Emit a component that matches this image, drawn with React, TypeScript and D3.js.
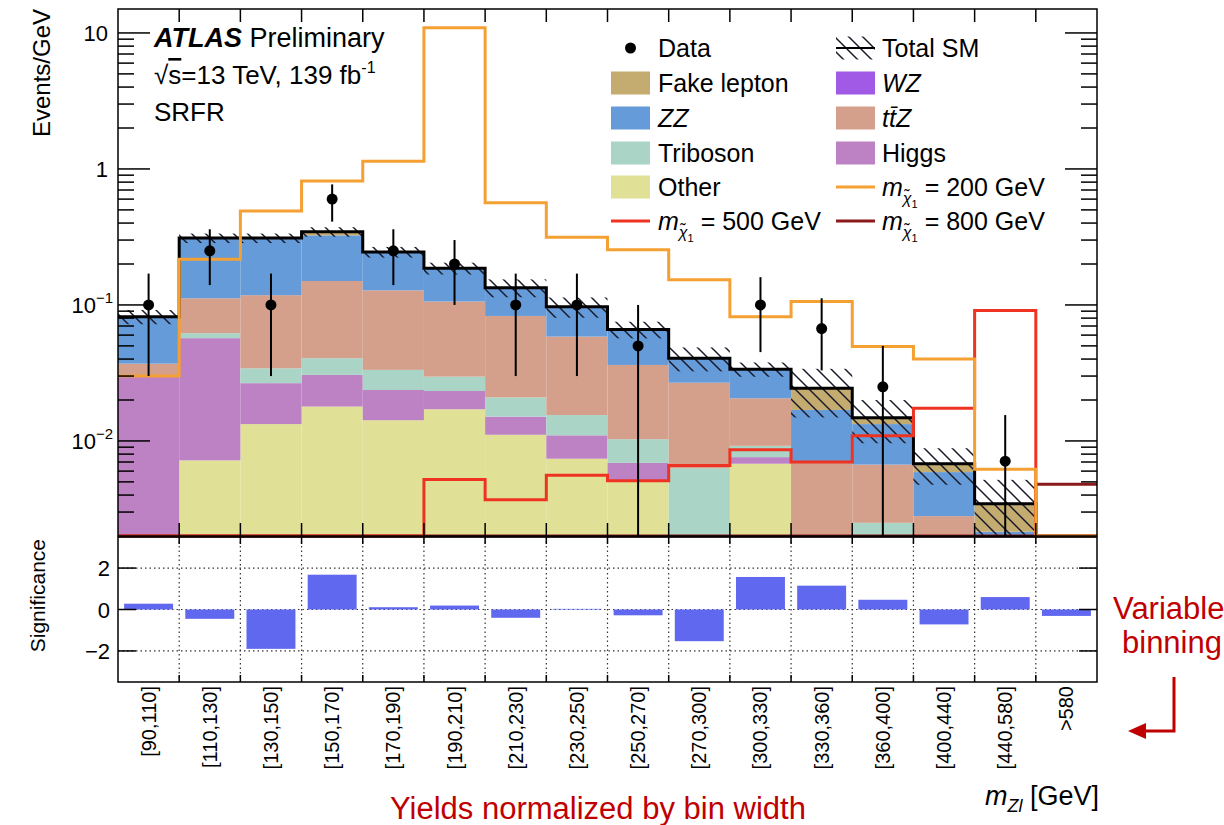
import React from "react";
import * as d3 from "d3";

// m_Zl bins (displayed with equal width)
const binLabels = [
  "[90,110]", "[110,130]", "[130,150]", "[150,170]", "[170,190]", "[190,210]",
  "[210,230]", "[230,250]", "[250,270]", "[270,300]", "[300,330]", "[330,360]",
  "[360,400]", "[400,440]", "[440,580]", ">580",
];

// Background yields, events / GeV
const other = [0, 0.0072, 0.0133, 0.0179, 0.0142, 0.0171, 0.0111, 0.0074, 0.005, 0, 0.0068, 0, 0, 0, 0, 0];
const higgs = [0.03, 0.0498, 0.0133, 0.0127, 0.0095, 0.0062, 0.004, 0.0036, 0.0019, 0, 0.0008, 0, 0, 0, 0, 0];
const triboson = [0, 0.005, 0.0076, 0.01, 0.0096, 0.0064, 0.0058, 0.0045, 0.0034, 0.0063, 0.0016, 0, 0.0025, 0, 0, 0];
const ttz = [0.007, 0.05, 0.0838, 0.1094, 0.0947, 0.0763, 0.0621, 0.043, 0.0259, 0.0205, 0.0114, 0.007, 0.0042, 0.0028, 0, 0];
const zz = [0.045, 0.198, 0.192, 0.175, 0.117, 0.08, 0.051, 0.0385, 0.0298, 0.0138, 0.0131, 0.0099, 0.0066, 0.0031, 0.00215, 0];
const wz = [0, 0, 0, 0, 0, 0, 0, 0, 0, 0, 0, 0, 0, 0, 0, 0];
const fake = [0, 0, 0, 0.02, 0, 0, 0, 0, 0, 0, 0, 0.0075, 0.0015, 0.0009, 0.0013, 0];

// Relative uncertainty on the total SM prediction
const totalUnc = [0.12, 0.08, 0.08, 0.08, 0.09, 0.1, 0.15, 0.17, 0.14, 0.2, 0.12, 0.39, 0.35, 0.3, 0.5, 0];

// Observed data with error bar ends (null: no event)
const dataVals = [0.1, 0.25, 0.1, 0.6, 0.25, 0.2, 0.1, 0.1, 0.05, null, 0.1, 0.067, 0.025, null, 0.0071, null];
const dataLo = [0.03, 0.14, 0.03, 0.41, 0.14, 0.1, 0.03, 0.03, 0, null, 0.045, 0.033, 0, null, 0, null];
const dataHi = [0.17, 0.36, 0.17, 0.77, 0.36, 0.3, 0.17, 0.17, 0.1, null, 0.16, 0.112, 0.05, null, 0.0155, null];

// Signal hypotheses
const sig200 = [0.03, 0.217, 0.49, 0.816, 1.14, 10.9, 0.565, 0.315, 0.255, 0.153, 0.082, 0.106, 0.0494, 0.04, 0.0062, 0];
const sig500 = [0, 0, 0, 0, 0, 0.0052, 0.0037, 0.0056, 0.0051, 0.0066, 0.0086, 0.007, 0.0109, 0.0174, 0.091, 0];
const sig800 = [0, 0, 0, 0, 0, 0, 0, 0, 0, 0, 0, 0, 0, 0, 0, 0.0048];

// Lower panel
const significance = [0.28, -0.45, -1.9, 1.68, 0.11, 0.19, -0.4, 0.03, -0.28, -1.53, 1.57, 1.15, 0.47, -0.72, 0.6, -0.31];

const mainTicks = [10, 1, 0.1, 0.01];
const mainTickExp = ["", "", "\u22121", "\u22122"];
const ratioTicks = [2, 0, -2];

const FONT = "'Liberation Sans', Arial, Helvetica, sans-serif";
const C = {
  other: "#e0e096",
  higgs: "#bd82c4",
  triboson: "#a9d4c6",
  ttz: "#d4a08c",
  zz: "#649bd8",
  wz: "#a05ae6",
  fake: "#c4ac70",
  s200: "#f5a033",
  s500: "#ee3322",
  s800: "#8b1a1a",
  bars: "#6068f0",
  note: "#c00000",
};

const L = 118, R = 1097, T = 9, B = 536, RT = 537, RB = 682;

export default function App() {
  const n = binLabels.length;
  const x = d3.scaleLinear().domain([0, n]).range([L, R]);
  const y = d3.scaleLog().domain([0.002, 15]).range([B, T]).clamp(true);
  const yr = d3.scaleLinear().domain([-3.5, 3.5]).range([RB, RT]);
  const Y = (v: number) => y(Math.max(v, 1e-6));

  const keys = ["other", "higgs", "triboson", "ttz", "zz", "wz", "fake"];
  const src: Record<string, number[]> = { other, higgs, triboson, ttz, zz, wz, fake };
  const rows = binLabels.map((_, i) => {
    const r: Record<string, number> = {};
    keys.forEach((k) => (r[k] = src[k][i]));
    return r;
  });
  const series = d3.stack<Record<string, number>>().keys(keys)(rows);
  const totals = rows.map((r) => keys.reduce((s, k) => s + r[k], 0));

  const stepPath = (vals: number[]) => {
    const pts: [number, number][] = vals.map((v, i) => [x(i), Y(v)]);
    pts.push([x(n), Y(vals[n - 1])]);
    return d3.line().curve(d3.curveStepAfter)(pts) || "";
  };

  const minor: number[] = [];
  for (let k = -3; k <= 1; k++) {
    for (let m = 2; m <= 9; m++) {
      const v = m * Math.pow(10, k);
      if (v > 0.002 && v < 15) minor.push(v);
    }
  }
  const bounds = d3.range(1, n);

  const legRows = [48, 83, 118, 153, 187, 221];
  const lx1 = 611, lx2 = 836, sw = 39, sh = 23;
  const legText = (xx: number, yy: number, content: React.ReactNode) => (
    <text x={xx} y={yy + 9} fontSize={25} fontFamily={FONT}>{content}</text>
  );
  const mChi = (mass: string) => (
    <>
      <tspan fontStyle="italic">m</tspan>
      <tspan fontSize={16} dy={8} fontStyle="italic">{"\u03C7\u0303"}</tspan>
      <tspan fontSize={11} dy={4}>1</tspan>
      <tspan dy={-12}>{` = ${mass} GeV`}</tspan>
    </>
  );

  return (
    <svg width={1224} height={825} style={{ position: "absolute", left: 0, top: 0, background: "#fff" }}>
      <defs>
        <pattern id="hatch" patternUnits="userSpaceOnUse" width={14} height={14}>
          <path d="M0,0 L14,14 M-7,7 L7,21 M7,-7 L21,7" stroke="#1a1a2a" strokeWidth={1.5} />
        </pattern>
        <clipPath id="mainClip">
          <rect x={L} y={T} width={R - L} height={B - T + 2} />
        </clipPath>
      </defs>

      {/* stacked backgrounds */}
      <g clipPath="url(#mainClip)">
        {series.map((s) => (
          <g key={s.key} fill={(C as any)[s.key]}>
            {s.map((d, i) =>
              d[1] - d[0] > 0 ? (
                <rect key={i} x={x(i)} width={x(i + 1) - x(i)} y={Y(d[1])} height={Math.max(0, Y(d[0]) - Y(d[1]))} />
              ) : null
            )}
          </g>
        ))}
        {/* uncertainty band */}
        {totals.map((t, i) =>
          t > 0 && totalUnc[i] > 0 ? (
            <rect key={i} x={x(i)} width={x(i + 1) - x(i)} y={Y(t * (1 + totalUnc[i]))}
              height={Y(t * (1 - totalUnc[i])) - Y(t * (1 + totalUnc[i]))} fill="url(#hatch)" />
          ) : null
        )}
        <path d={stepPath(totals)} fill="none" stroke="#000" strokeWidth={3} />
        <path d={stepPath(sig800)} fill="none" stroke={C.s800} strokeWidth={3} />
        <path d={stepPath(sig500)} fill="none" stroke={C.s500} strokeWidth={3} />
        <path d={stepPath(sig200)} fill="none" stroke={C.s200} strokeWidth={3} />
        {/* data */}
        {dataVals.map((v, i) =>
          v === null ? null : (
            <g key={i}>
              <line x1={x(i + 0.5)} x2={x(i + 0.5)} y1={Y(dataHi[i] as number)} y2={Y(dataLo[i] as number)} stroke="#000" strokeWidth={2} />
              <circle cx={x(i + 0.5)} cy={Y(v)} r={5.5} fill="#000" />
            </g>
          )
        )}
      </g>

      {/* main frame and ticks */}
      <rect x={L} y={T} width={R - L} height={B - T} fill="none" stroke="#000" strokeWidth={1.5} />
      {bounds.map((b) => (
        <g key={b} stroke="#000" strokeWidth={1.5}>
          <line x1={x(b)} x2={x(b)} y1={T} y2={T + 13} />
          <line x1={x(b)} x2={x(b)} y1={B} y2={B - 13} />
        </g>
      ))}
      {mainTicks.map((v) => (
        <g key={v} stroke="#000" strokeWidth={1.5}>
          <line x1={L} x2={L + 32} y1={y(v)} y2={y(v)} />
          <line x1={R} x2={R - 32} y1={y(v)} y2={y(v)} />
        </g>
      ))}
      {minor.map((v) => (
        <g key={v} stroke="#000" strokeWidth={1.5}>
          <line x1={L} x2={L + 16} y1={y(v)} y2={y(v)} />
          <line x1={R} x2={R - 16} y1={y(v)} y2={y(v)} />
        </g>
      ))}
      {mainTicks.map((v, i) => (
        <text key={v} x={mainTickExp[i] ? 113 : 108} y={y(v) + 8} textAnchor="end" fontSize={22} fontFamily={FONT}>
          {v >= 1 ? String(v) : "10"}
          {mainTickExp[i] ? <tspan fontSize={15} dy={-10}>{mainTickExp[i]}</tspan> : null}
        </text>
      ))}
      <text transform={`translate(50,${T}) rotate(-90)`} textAnchor="end" fontSize={24} fontFamily={FONT}>Events/GeV</text>

      {/* ATLAS label */}
      <text x={154} y={47} fontSize={27} fontFamily={FONT}>
        <tspan fontWeight="bold" fontStyle="italic">ATLAS</tspan>
        <tspan> Preliminary</tspan>
      </text>
      <text x={154} y={84} fontSize={26} fontFamily={FONT}>
        {"\u221A"}<tspan style={{ textDecoration: "overline" }}>s</tspan>=13 TeV, 139 fb
        <tspan fontSize={16} dy={-11}>-1</tspan>
      </text>
      <text x={154} y={121} fontSize={26} fontFamily={FONT}>SRFR</text>

      {/* legend */}
      <circle cx={lx1 + sw / 2} cy={legRows[0]} r={5.5} fill="#000" />
      {legText(658, legRows[0], "Data")}
      <rect x={lx2} y={legRows[0] - sh / 2} width={sw} height={sh} fill="url(#hatch)" />
      <line x1={lx2} x2={lx2 + sw} y1={legRows[0]} y2={legRows[0]} stroke="#000" strokeWidth={2} />
      {legText(882, legRows[0], "Total SM")}
      <rect x={lx1} y={legRows[1] - sh / 2} width={sw} height={sh} fill={C.fake} />
      {legText(658, legRows[1], "Fake lepton")}
      <rect x={lx2} y={legRows[1] - sh / 2} width={sw} height={sh} fill={C.wz} />
      {legText(882, legRows[1], <tspan fontStyle="italic">WZ</tspan>)}
      <rect x={lx1} y={legRows[2] - sh / 2} width={sw} height={sh} fill={C.zz} />
      {legText(658, legRows[2], <tspan fontStyle="italic">ZZ</tspan>)}
      <rect x={lx2} y={legRows[2] - sh / 2} width={sw} height={sh} fill={C.ttz} />
      {legText(882, legRows[2], <tspan fontStyle="italic">{"tt\u0304Z"}</tspan>)}
      <rect x={lx1} y={legRows[3] - sh / 2} width={sw} height={sh} fill={C.triboson} />
      {legText(658, legRows[3], "Triboson")}
      <rect x={lx2} y={legRows[3] - sh / 2} width={sw} height={sh} fill={C.higgs} />
      {legText(882, legRows[3], "Higgs")}
      <rect x={lx1} y={legRows[4] - sh / 2} width={sw} height={sh} fill={C.other} />
      {legText(658, legRows[4], "Other")}
      <line x1={lx2} x2={lx2 + sw} y1={legRows[4]} y2={legRows[4]} stroke={C.s200} strokeWidth={3} />
      {legText(882, legRows[4], mChi("200"))}
      <line x1={lx1} x2={lx1 + sw} y1={legRows[5]} y2={legRows[5]} stroke={C.s500} strokeWidth={3} />
      {legText(658, legRows[5], mChi("500"))}
      <line x1={lx2} x2={lx2 + sw} y1={legRows[5]} y2={legRows[5]} stroke={C.s800} strokeWidth={3} />
      {legText(882, legRows[5], mChi("800"))}

      {/* significance panel */}
      {bounds.map((b) => (
        <line key={b} x1={x(b)} x2={x(b)} y1={RT} y2={RB} stroke="#333" strokeWidth={1.2} strokeDasharray="1.5,3" />
      ))}
      {ratioTicks.map((v) => (
        <line key={v} x1={L} x2={R} y1={yr(v)} y2={yr(v)} stroke="#333" strokeWidth={1.2} strokeDasharray="1.5,3" />
      ))}
      {significance.map((s, i) => {
        const w = x(i + 1) - x(i);
        return (
          <rect key={i} x={x(i) + 0.1 * w} width={0.8 * w} y={yr(Math.max(s, 0))}
            height={Math.abs(yr(s) - yr(0))} fill={C.bars} />
        );
      })}
      <rect x={L} y={RT} width={R - L} height={RB - RT} fill="none" stroke="#000" strokeWidth={1.5} />
      {bounds.map((b) => (
        <g key={b} stroke="#000" strokeWidth={1.5}>
          <line x1={x(b)} x2={x(b)} y1={RT} y2={RT + 7} />
          <line x1={x(b)} x2={x(b)} y1={RB} y2={RB - 7} />
        </g>
      ))}
      {ratioTicks.map((v) => (
        <g key={v} stroke="#000" strokeWidth={1.5}>
          <line x1={L} x2={L + 18} y1={yr(v)} y2={yr(v)} />
          <line x1={R} x2={R - 18} y1={yr(v)} y2={yr(v)} />
        </g>
      ))}
      {ratioTicks.map((v) => (
        <text key={v} x={110} y={yr(v) + 8} textAnchor="end" fontSize={22} fontFamily={FONT}>
          {v < 0 ? `\u2212${-v}` : String(v)}
        </text>
      ))}
      <text transform={`translate(45,${RT + 2}) rotate(-90)`} textAnchor="end" fontSize={21} fontFamily={FONT}>Significance</text>

      {/* bin labels */}
      {binLabels.map((lab, i) => (
        <text key={lab} transform={`translate(${x(i + 0.5) + 7},686) rotate(-90)`} textAnchor="end" fontSize={20} fontFamily={FONT}>
          {lab}
        </text>
      ))}
      <text x={R + 2} y={805} textAnchor="end" fontSize={27} fontFamily={FONT}>
        <tspan fontStyle="italic">m</tspan>
        <tspan fontSize={18} dy={7} fontStyle="italic">Zl</tspan>
        <tspan dy={-7}> [GeV]</tspan>
      </text>

      {/* annotations */}
      <text x={598} y={819} textAnchor="middle" fontSize={31} fontFamily={FONT} fill={C.note}>Yields normalized by bin width</text>
      <text x={1113} y={619} fontSize={31} fontFamily={FONT} fill={C.note}>Variable</text>
      <text x={1122} y={653} fontSize={31} fontFamily={FONT} fill={C.note}>binning</text>
      <path d="M1174,677 L1174,731 L1143,731" fill="none" stroke={C.note} strokeWidth={3} />
      <path d="M1128,731 L1146,723 L1146,739 Z" fill={C.note} />
    </svg>
  );
}
